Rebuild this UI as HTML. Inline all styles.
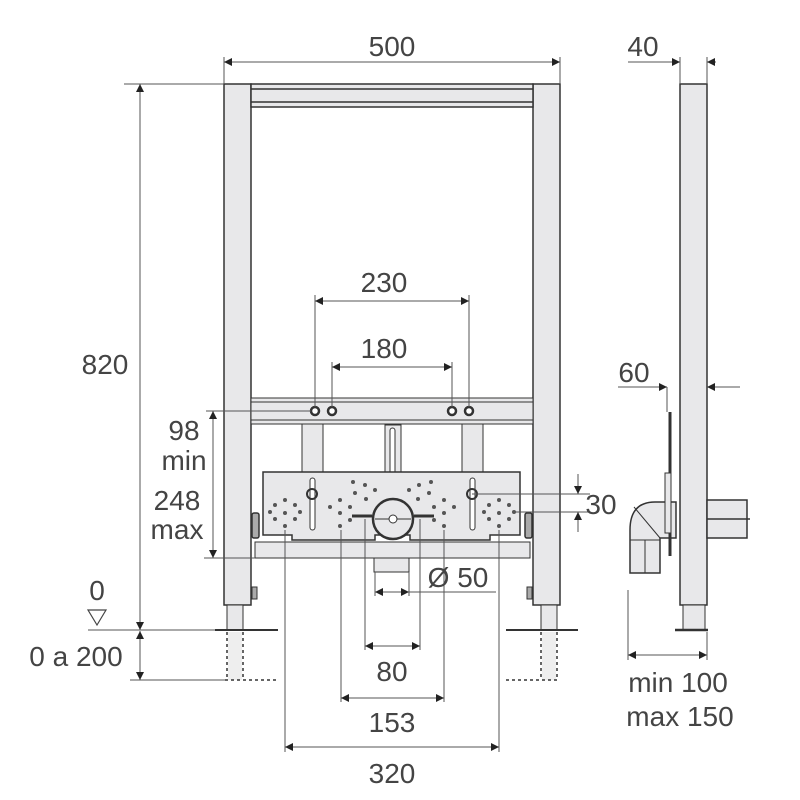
<!DOCTYPE html>
<html><head><meta charset="utf-8"><style>html,body{margin:0;padding:0;background:#fff}svg{display:block}</style></head>
<body>
<svg width="800" height="800" viewBox="0 0 800 800" xmlns="http://www.w3.org/2000/svg" font-family="Liberation Sans, sans-serif">
<defs>
<marker id="e" viewBox="0 0 10 10" refX="10" refY="5" markerWidth="9" markerHeight="8" markerUnits="userSpaceOnUse" orient="auto"><path d="M0,0 L10,5 L0,10z" fill="#222" stroke="none"/></marker>
<marker id="s" viewBox="0 0 10 10" refX="0" refY="5" markerWidth="9" markerHeight="8" markerUnits="userSpaceOnUse" orient="auto"><path d="M10,0 L0,5 L10,10z" fill="#222" stroke="none"/></marker>
</defs>
<g stroke="#333" fill="none" stroke-width="1">
<rect x="224" y="84" width="27" height="521" fill="#e8e8ea" stroke-width="1.5"/>
<rect x="533" y="84" width="27" height="521" fill="#e8e8ea" stroke-width="1.5"/>
<rect x="251" y="84" width="282" height="23" fill="#e8e8ea" stroke-width="1.5"/>
<line x1="251" y1="89" x2="533" y2="89" stroke-width="1.5"/>
<line x1="251" y1="102" x2="533" y2="102" stroke-width="1.5"/>
<rect x="227" y="605" width="16" height="25" fill="#e8e8ea"/>
<rect x="541" y="605" width="16" height="25" fill="#e8e8ea"/>
<line x1="215" y1="630" x2="278" y2="630" stroke-width="2"/>
<line x1="506" y1="630" x2="578" y2="630" stroke-width="2"/>
<rect x="228" y="632" width="14" height="48" fill="#eee" stroke="none"/>
<rect x="542" y="632" width="14" height="48" fill="#eee" stroke="none"/>
<g stroke-dasharray="3,3" stroke-width="1.5">
<line x1="227" y1="632" x2="227" y2="680"/><line x1="243" y1="632" x2="243" y2="680"/>
<line x1="541" y1="632" x2="541" y2="680"/><line x1="557" y1="632" x2="557" y2="680"/>
<line x1="225" y1="680" x2="278" y2="680"/><line x1="506" y1="680" x2="560" y2="680"/>
</g>
<rect x="251" y="398" width="282" height="26" fill="#e8e8ea"/>
<line x1="251" y1="402" x2="533" y2="402"/><line x1="251" y1="420" x2="533" y2="420"/>
<g stroke-width="2.5" fill="#fff"><circle cx="315" cy="411" r="4"/><circle cx="332" cy="411" r="4"/><circle cx="452" cy="411" r="4"/><circle cx="469" cy="411" r="4"/></g>
<rect x="302" y="424" width="21" height="48" fill="#e8e8ea"/>
<rect x="462" y="424" width="21" height="48" fill="#e8e8ea"/>
<rect x="385" y="425" width="16" height="80" fill="#e8e8ea"/>
<rect x="390" y="428" width="5" height="70" rx="2.5" fill="#fff"/>
<path d="M263,472 H520 V535 H490 V540 H410 V535 H375 V540 H292 V535 H263Z" fill="#e8e8ea" stroke-width="1.5"/>
<rect x="310" y="478" width="5" height="52" rx="2.5" fill="#fff"/>
<rect x="470" y="478" width="5" height="52" rx="2.5" fill="#fff"/>
<circle cx="312" cy="494" r="5" stroke-width="2"/><circle cx="472" cy="494" r="5" stroke-width="2"/>
<g fill="#555" stroke="none">
<circle cx="285" cy="500" r="2"/><circle cx="285" cy="513" r="2"/><circle cx="285" cy="526" r="2"/><circle cx="275" cy="505" r="2"/><circle cx="295" cy="505" r="2"/><circle cx="275" cy="519" r="2"/><circle cx="295" cy="519" r="2"/><circle cx="270" cy="512" r="2"/><circle cx="300" cy="512" r="2"/>
<circle cx="499" cy="500" r="2"/><circle cx="499" cy="513" r="2"/><circle cx="499" cy="526" r="2"/><circle cx="489" cy="505" r="2"/><circle cx="509" cy="505" r="2"/><circle cx="489" cy="519" r="2"/><circle cx="509" cy="519" r="2"/><circle cx="484" cy="512" r="2"/><circle cx="514" cy="512" r="2"/>
<circle cx="340" cy="500" r="2"/><circle cx="340" cy="513" r="2"/><circle cx="340" cy="526" r="2"/><circle cx="330" cy="507" r="2"/><circle cx="350" cy="507" r="2"/><circle cx="350" cy="520" r="2"/><circle cx="355" cy="493" r="2"/><circle cx="365" cy="485" r="2"/><circle cx="366" cy="499" r="2"/><circle cx="375" cy="490" r="2"/><circle cx="353" cy="482" r="2"/>
<circle cx="444" cy="500" r="2"/><circle cx="444" cy="513" r="2"/><circle cx="444" cy="526" r="2"/><circle cx="454" cy="507" r="2"/><circle cx="434" cy="507" r="2"/><circle cx="434" cy="520" r="2"/><circle cx="429" cy="493" r="2"/><circle cx="419" cy="485" r="2"/><circle cx="418" cy="499" r="2"/><circle cx="409" cy="490" r="2"/><circle cx="431" cy="482" r="2"/>
</g>
<rect x="255" y="542" width="275" height="16" fill="#e8e8ea"/>
<rect x="374" y="558" width="35" height="14" fill="#e8e8ea"/>
<circle cx="393" cy="519" r="20" fill="#e8e8ea" stroke-width="2.5"/>
<line x1="375" y1="519" x2="411" y2="519"/><circle cx="393" cy="519" r="4" fill="#fff"/>
<g stroke-width="3"><line x1="352" y1="516" x2="372" y2="516"/><line x1="414" y1="516" x2="434" y2="516"/></g>
<rect x="252" y="513" width="7" height="25" rx="2" fill="#aaa" stroke-width="1.5"/>
<rect x="525" y="513" width="7" height="25" rx="2" fill="#aaa" stroke-width="1.5"/>
<rect x="252" y="587" width="5" height="12" fill="#aaa"/><rect x="527" y="587" width="5" height="12" fill="#aaa"/>

<rect x="680" y="84" width="27" height="521" fill="#e8e8ea" stroke-width="1.5"/>
<rect x="683" y="605" width="22" height="25" fill="#e8e8ea"/>
<line x1="675" y1="630" x2="708" y2="630" stroke-width="2.5"/>
<rect x="707" y="500" width="40" height="38" fill="#e8e8ea" stroke-width="1.5"/>
<line x1="707" y1="519" x2="750" y2="519" stroke-width="1.5"/>
<path d="M630,573 V530 Q630,502 655,502 H676 V538 H660 V573 Z" fill="#e8e8ea" stroke-width="1.5"/>
<line x1="630" y1="540" x2="660" y2="540"/><line x1="645" y1="540" x2="645" y2="573"/><line x1="634" y1="507" x2="660" y2="538"/>
<line x1="670" y1="412" x2="670" y2="556" stroke-width="3"/>
<rect x="665" y="473" width="6" height="60" fill="#e8e8ea"/>

<g stroke="#555" stroke-width="1">
<line x1="224" y1="84" x2="224" y2="57"/><line x1="560" y1="84" x2="560" y2="57"/>
<line x1="224" y1="62" x2="560" y2="62" marker-start="url(#s)" marker-end="url(#e)"/>
<line x1="680" y1="84" x2="680" y2="57"/><line x1="707" y1="84" x2="707" y2="57"/>
<line x1="628" y1="62" x2="680" y2="62" marker-end="url(#e)"/><line x1="707" y1="62" x2="707" y2="62"/>
<line x1="716" y1="62" x2="707" y2="62" marker-end="url(#e)"/>
<line x1="124" y1="84" x2="224" y2="84"/>
<line x1="140" y1="84" x2="140" y2="630" marker-start="url(#s)" marker-end="url(#e)"/>
<line x1="88" y1="630" x2="215" y2="630"/>
<line x1="130" y1="680" x2="225" y2="680"/>
<line x1="140" y1="631" x2="140" y2="680" marker-start="url(#s)" marker-end="url(#e)"/>
<line x1="206" y1="411" x2="311" y2="411"/><line x1="204" y1="558" x2="255" y2="558"/>
<line x1="213" y1="411" x2="213" y2="558" marker-start="url(#s)" marker-end="url(#e)"/>
<line x1="315" y1="407" x2="315" y2="295"/><line x1="469" y1="407" x2="469" y2="295"/>
<line x1="315" y1="301" x2="469" y2="301" marker-start="url(#s)" marker-end="url(#e)"/>
<line x1="332" y1="407" x2="332" y2="362"/><line x1="452" y1="407" x2="452" y2="362"/>
<line x1="332" y1="367" x2="452" y2="367" marker-start="url(#s)" marker-end="url(#e)"/>
<line x1="472" y1="494" x2="590" y2="494"/><line x1="514" y1="512" x2="590" y2="512"/>
<line x1="578" y1="474" x2="578" y2="494" marker-end="url(#e)"/><line x1="578" y1="532" x2="578" y2="512" marker-end="url(#e)"/>
<line x1="375" y1="592" x2="409" y2="592" marker-start="url(#s)" marker-end="url(#e)"/>
<line x1="409" y1="592" x2="496" y2="592"/>
<line x1="375" y1="572" x2="375" y2="596"/><line x1="409" y1="572" x2="409" y2="596"/>
<line x1="365" y1="519" x2="365" y2="650"/><line x1="420" y1="519" x2="420" y2="650"/>
<line x1="365" y1="646" x2="420" y2="646" marker-start="url(#s)" marker-end="url(#e)"/>
<line x1="341" y1="530" x2="341" y2="702"/><line x1="444" y1="530" x2="444" y2="702"/>
<line x1="341" y1="698" x2="444" y2="698" marker-start="url(#s)" marker-end="url(#e)"/>
<line x1="285" y1="530" x2="285" y2="752"/><line x1="499" y1="530" x2="499" y2="752"/>
<line x1="285" y1="747" x2="499" y2="747" marker-start="url(#s)" marker-end="url(#e)"/>
<line x1="618" y1="387" x2="667" y2="387" marker-end="url(#e)"/>
<line x1="740" y1="387" x2="707" y2="387" marker-end="url(#e)"/>
<line x1="667" y1="387" x2="667" y2="412"/>
<line x1="628" y1="590" x2="628" y2="660"/><line x1="707" y1="632" x2="707" y2="660"/>
<line x1="628" y1="655" x2="707" y2="655" marker-start="url(#s)" marker-end="url(#e)"/>
</g>
<path d="M88,610 H106 L97,625 Z" stroke="#444" stroke-width="1.2"/>
</g>
<g fill="#444" stroke="none" font-size="28">
<text x="392" y="56" text-anchor="middle">500</text>
<text x="643" y="56" text-anchor="middle">40</text>
<text x="105" y="374" text-anchor="middle">820</text>
<text x="384" y="292" text-anchor="middle">230</text>
<text x="384" y="358" text-anchor="middle">180</text>
<text x="184" y="440" text-anchor="middle">98</text>
<text x="184" y="470" text-anchor="middle">min</text>
<text x="177" y="510" text-anchor="middle">248</text>
<text x="177" y="539" text-anchor="middle">max</text>
<text x="97" y="600" text-anchor="middle">0</text>
<text x="76" y="666" text-anchor="middle">0 a 200</text>
<text x="601" y="514" text-anchor="middle">30</text>
<text x="458" y="587" text-anchor="middle">Ø 50</text>
<text x="392" y="681" text-anchor="middle">80</text>
<text x="392" y="732" text-anchor="middle">153</text>
<text x="392" y="783" text-anchor="middle">320</text>
<text x="634" y="382" text-anchor="middle">60</text>
<text x="678" y="692" text-anchor="middle">min 100</text>
<text x="680" y="726" text-anchor="middle">max 150</text>
</g>
</svg>
</body></html>
